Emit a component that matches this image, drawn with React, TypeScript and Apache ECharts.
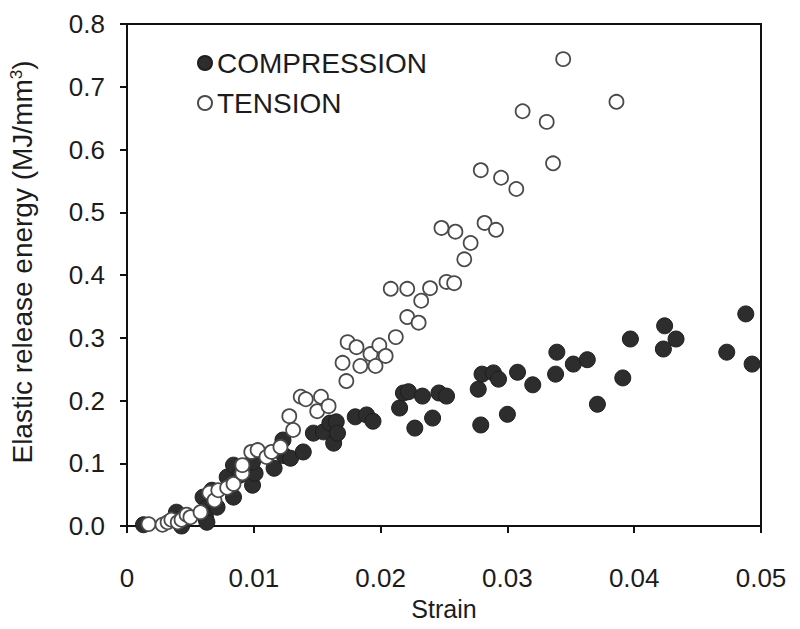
import React, { useEffect, useRef } from "react";
import * as echarts from "echarts";

const xTicks = [0, 0.01, 0.02, 0.03, 0.04, 0.05];
const yTicks = [0, 0.1, 0.2, 0.3, 0.4, 0.5, 0.6, 0.7, 0.8];

const compression: [number, number][] = [
  [0.0013, 0.002], [0.0039, 0.022], [0.0043, 0.0], [0.004, 0.01], [0.0062, 0.013],
  [0.0063, 0.006], [0.006, 0.046], [0.0063, 0.029], [0.0067, 0.057], [0.0071, 0.03],
  [0.0079, 0.078], [0.0084, 0.097], [0.0084, 0.046], [0.0089, 0.081], [0.0095, 0.086],
  [0.0099, 0.065], [0.0101, 0.084], [0.0099, 0.102], [0.0116, 0.092], [0.0123, 0.137],
  [0.0124, 0.112], [0.0129, 0.108], [0.0139, 0.118], [0.0147, 0.148], [0.0155, 0.15],
  [0.016, 0.164], [0.0165, 0.166], [0.0163, 0.132], [0.0166, 0.148], [0.018, 0.174],
  [0.0189, 0.177], [0.0194, 0.167], [0.0215, 0.188], [0.0218, 0.212], [0.0222, 0.214],
  [0.0227, 0.156], [0.0233, 0.207], [0.0241, 0.172], [0.0246, 0.212], [0.0252, 0.207],
  [0.0277, 0.218], [0.0279, 0.161], [0.028, 0.242], [0.0289, 0.244], [0.0293, 0.234],
  [0.03, 0.178], [0.0308, 0.245], [0.032, 0.225], [0.0338, 0.242], [0.0339, 0.277],
  [0.0352, 0.258], [0.0363, 0.265], [0.0371, 0.194], [0.0391, 0.236], [0.0397, 0.298],
  [0.0423, 0.282], [0.0424, 0.319], [0.0433, 0.298], [0.0473, 0.277], [0.0488, 0.338],
  [0.0493, 0.258],
];

const tension: [number, number][] = [
  [0.0017, 0.003], [0.0028, 0.002], [0.0032, 0.006], [0.0035, 0.01], [0.004, 0.006],
  [0.0043, 0.01], [0.0047, 0.018], [0.005, 0.014], [0.0058, 0.022], [0.0065, 0.053],
  [0.0069, 0.041], [0.0072, 0.057], [0.0079, 0.061], [0.0084, 0.067], [0.0091, 0.084],
  [0.0091, 0.097], [0.0098, 0.118], [0.0103, 0.121], [0.011, 0.11], [0.0114, 0.118],
  [0.0121, 0.126], [0.0128, 0.175], [0.0131, 0.153], [0.0137, 0.206], [0.0141, 0.202],
  [0.015, 0.183], [0.0153, 0.206], [0.0159, 0.191], [0.017, 0.26], [0.0173, 0.231],
  [0.0174, 0.293], [0.0181, 0.285], [0.0184, 0.255], [0.0192, 0.274], [0.0196, 0.255],
  [0.0199, 0.288], [0.0204, 0.271], [0.0208, 0.378], [0.0212, 0.301], [0.0221, 0.378],
  [0.0221, 0.333], [0.023, 0.324], [0.0232, 0.359], [0.0239, 0.379], [0.0252, 0.389],
  [0.0258, 0.387], [0.0266, 0.425], [0.0248, 0.475], [0.0259, 0.469], [0.0271, 0.451],
  [0.0282, 0.483], [0.0291, 0.472], [0.0279, 0.567], [0.0295, 0.555], [0.0307, 0.537],
  [0.0312, 0.661], [0.0331, 0.644], [0.0336, 0.578], [0.0344, 0.744], [0.0386, 0.676],
];

const FONT = "'Liberation Sans', Arial, sans-serif";
const TXT = "#1c1c1c";

export default function App() {
  const ref = useRef<HTMLDivElement>(null);
  useEffect(() => {
    if (!ref.current) return;
    const chart = echarts.init(ref.current, undefined, { renderer: "svg" });
    chart.setOption({
      animation: false,
      backgroundColor: "#fff",
      textStyle: { fontFamily: FONT },
      grid: {
        left: 127, right: 39, top: 24, bottom: 103,
        show: true, borderColor: "#111", borderWidth: 2,
      },
      legend: {
        orient: "vertical",
        left: 192, top: 43,
        icon: "circle",
        itemWidth: 14, itemHeight: 14,
        itemGap: 10,
        textStyle: { fontSize: 28, color: TXT, fontFamily: FONT, lineHeight: 30 },
        data: ["COMPRESSION", "TENSION"],
      },
      xAxis: {
        type: "value",
        min: xTicks[0], max: xTicks[xTicks.length - 1], interval: 0.01,
        name: "Strain",
        nameLocation: "middle",
        nameGap: 70,
        nameTextStyle: { fontSize: 25, color: TXT, fontFamily: FONT },
        axisLine: { show: true, lineStyle: { color: "#111", width: 2 } },
        axisTick: { show: true, inside: false, length: 7, lineStyle: { color: "#111", width: 2 } },
        axisLabel: { fontSize: 26, color: TXT, margin: 39, fontFamily: FONT, formatter: (v: number) => String(+v.toFixed(2)) },
        splitLine: { show: false },
      },
      yAxis: {
        type: "value",
        min: yTicks[0], max: yTicks[yTicks.length - 1], interval: 0.1,
        axisLine: { show: true, lineStyle: { color: "#111", width: 2 } },
        axisTick: { show: true, inside: false, length: 7, lineStyle: { color: "#111", width: 2 } },
        axisLabel: { fontSize: 26, color: TXT, margin: 22, fontFamily: FONT, formatter: (v: number) => v.toFixed(1) },
        splitLine: { show: false },
      },
      graphic: [
        {
          type: "text",
          x: 22, y: 262,
          rotation: Math.PI / 2,
          style: {
            text: "Elastic release energy (MJ/mm{sup|3})",
            fill: TXT,
            font: `28px ${FONT}`,
            align: "center",
            verticalAlign: "middle",
            rich: { sup: { fontSize: 17, verticalAlign: "top", padding: [0, 0, 12, 0], fill: TXT } },
          },
        },
      ],
      series: [
        {
          name: "COMPRESSION",
          type: "scatter",
          data: compression,
          symbolSize: 16,
          itemStyle: { color: "#2d2d2d", borderColor: "#1e1e1e", borderWidth: 1, opacity: 1 },
        },
        {
          name: "TENSION",
          type: "scatter",
          data: tension,
          symbolSize: 14,
          itemStyle: { color: "#ffffff", borderColor: "#4a4a4a", borderWidth: 1.8, opacity: 1 },
        },
      ],
    });
    return () => chart.dispose();
  }, []);
  return <div ref={ref} style={{ width: 800, height: 629, position: "absolute", left: 0, top: 0 }} />;
}
